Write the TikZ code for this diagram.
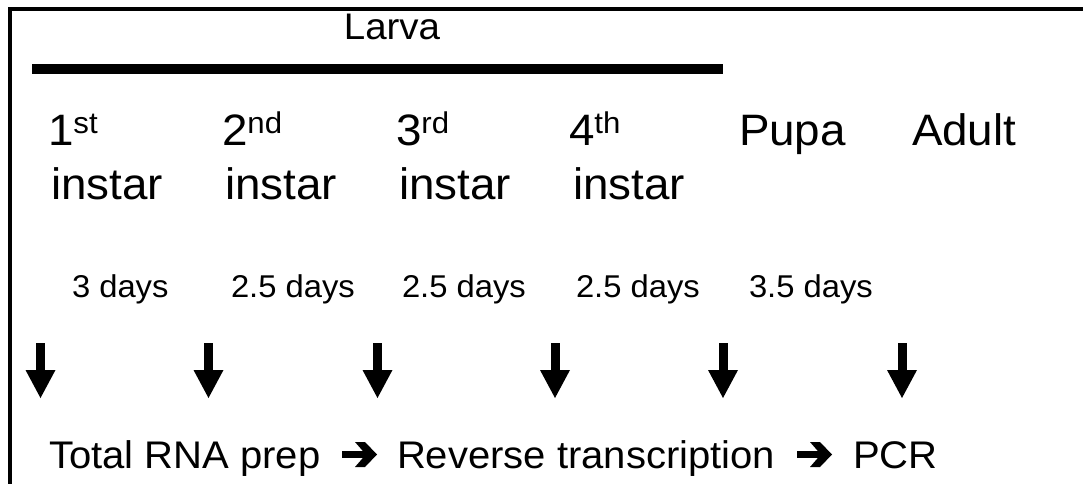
\documentclass[tikz,border=0pt]{standalone}
\usepackage{fontspec}
\setmainfont{Liberation Sans}[FakeStretch=1.04]
\usetikzlibrary{arrows.meta}
\begin{document}
\begin{tikzpicture}[x=1pt,y=-1pt,
  lbl/.style={inner sep=0pt, outer sep=0pt, anchor=base west, text=black},
  stagetxt/.style={lbl, font=\fontsize{44}{44}\selectfont},
  daytxt/.style={lbl, font=\fontsize{31.5}{31.5}\selectfont},
  proctxt/.style={lbl, font=\fontsize{38.5}{38.5}\selectfont},
  downarrow/.style={line width=9pt, -{Triangle[length=28pt,width=30pt,line width=0pt]}},
  frameline/.style={line width=3.5pt},
  barline/.style={line width=9.5pt},
  fatarrow/.pic={\fill[black] (0,-3.3) -- (21,-3.3) -- (13,-12.5) -- (23,-12.5) -- (35,0)
     -- (23,12.5) -- (13,12.5) -- (21,3.3) -- (0,3.3) -- cycle;}
]
\useasboundingbox (0,0) rectangle (1083,484);
\newcommand{\supr}[1]{{\fontsize{30}{30}\selectfont\raisebox{11.5pt}{#1}}}

% frame (open on right and bottom)
\draw[frameline] (10,484) -- (10,9) -- (1083,9);

% Larva bar
\node[lbl, anchor=base, font=\fontsize{37}{37}\selectfont] (larva) at (392,40) {Larva};
\coordinate (barL) at (32,69);
\coordinate (barR) at (723,69);
\draw[barline] (barL) -- (barR);

% stages
\node[stagetxt] (s1) at (48,145) {1\supr{st}};
\node[stagetxt] (s2) at (222,145) {2\supr{nd}};
\node[stagetxt] (s3) at (396,145) {3\supr{rd}};
\node[stagetxt] (s4) at (569,145) {4\supr{th}};
\node[stagetxt] (pupa) at (739,145) {Pupa};
\node[stagetxt] (adult) at (912,145) {Adult};
\node[stagetxt] (i1) at (51,199) {instar};
\node[stagetxt] (i2) at (225,199) {instar};
\node[stagetxt] (i3) at (399,199) {instar};
\node[stagetxt] (i4) at (573,199) {instar};

% durations
\node[daytxt] (d1) at (72,297) {3 days};
\node[daytxt] (d2) at (231,297) {2.5 days};
\node[daytxt] (d3) at (402,297) {2.5 days};
\node[daytxt] (d4) at (576,297) {2.5 days};
\node[daytxt] (d5) at (749,297) {3.5 days};

% sampling arrows
\foreach \n/\x in {1/40.5,2/208.5,3/377.5,4/555,5/723,6/902}{
  \coordinate (t\n) at (\x,343);
  \coordinate (b\n) at (\x,398);
  \draw[downarrow] (t\n) -- (b\n);
}

% procedure
\node[proctxt] (rna) at (49,468) {Total RNA prep};
\coordinate (ar1) at (342,454.5);
\pic at (ar1) {fatarrow};
\node[proctxt] (rt) at (397,468) {Reverse transcription};
\coordinate (ar2) at (797,454.5);
\pic at (ar2) {fatarrow};
\node[proctxt] (pcr) at (853,468) {PCR};
\end{tikzpicture}
\end{document}
